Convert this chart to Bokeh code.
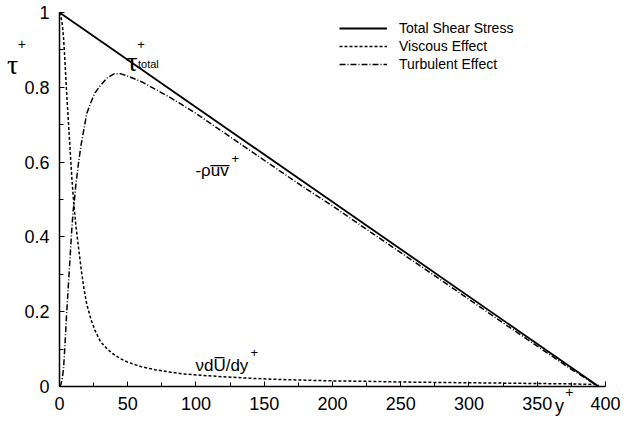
from bokeh.plotting import figure
from bokeh.models import Range1d, FixedTicker, CustomJSTickFormatter, Label, Legend, LegendItem
from bokeh.embed import file_html
from bokeh.resources import INLINE

# ---- data ----
y_plus = [0, 1, 2, 3, 4, 5, 6, 7, 8, 9, 10, 11, 12, 14, 16, 18, 20, 23, 26, 30, 35, 40, 45,
          50, 60, 70, 80, 90, 100, 120, 140, 160, 180, 200, 225, 250, 275, 300, 325, 350, 375, 395]
viscous = [1.0, 0.99, 0.97, 0.93, 0.87, 0.80, 0.74, 0.68, 0.62, 0.56, 0.51, 0.47, 0.43, 0.37,
           0.31, 0.26, 0.22, 0.18, 0.15, 0.12, 0.10, 0.085, 0.074, 0.065, 0.053, 0.045, 0.039,
           0.034, 0.031, 0.026, 0.022, 0.019, 0.017, 0.015, 0.014, 0.012, 0.011, 0.010, 0.009,
           0.008, 0.007, 0.005]
turbulent = [0.0, 0.005, 0.02, 0.05, 0.11, 0.18, 0.24, 0.30, 0.36, 0.42, 0.47, 0.50, 0.54, 0.60,
             0.65, 0.69, 0.73, 0.76, 0.785, 0.805, 0.825, 0.836, 0.836, 0.83, 0.815, 0.795,
             0.775, 0.753, 0.73, 0.68, 0.63, 0.58, 0.53, 0.483, 0.42, 0.358, 0.296, 0.233,
             0.17, 0.108, 0.046, 0.0]
total_y = [0, 395]
total_tau = [1.0, 0.0]

x_ticks = [0, 50, 100, 150, 200, 250, 300, 350, 400]
x_minor = [25, 75, 125, 175, 225, 275, 325, 375]
y_ticks = [0, 0.2, 0.4, 0.6, 0.8, 1]
y_minor = [0.1, 0.3, 0.5, 0.7, 0.9]

series_names = ["Total Shear Stress", "Viscous Effect", "Turbulent Effect"]

FONT = "Liberation Sans"
GREEK = "Liberation Serif"

# the frame fills the whole canvas; the axes are pinned at x=0 / y=0
p = figure(width=623, height=427, output_backend="svg", toolbar_location=None,
           x_range=Range1d(-43.22, 413.19), y_range=Range1d(-0.1096, 1.0321),
           min_border=0)
p.grid.visible = False
p.outline_line_color = None
p.background_fill_color = "white"
p.border_fill_color = "white"

p.xaxis[0].fixed_location = 0
p.yaxis[0].fixed_location = 0
p.xaxis[0].bounds = (0, 400)
p.yaxis[0].bounds = (0, 1)

for ax, ticks, minor in ((p.xaxis[0], x_ticks, x_minor), (p.yaxis[0], y_ticks, y_minor)):
    ax.ticker = FixedTicker(ticks=ticks, minor_ticks=minor)
    ax.axis_line_width = 1.5
    ax.axis_line_color = "black"
    ax.major_tick_in = 5
    ax.major_tick_out = 0
    ax.minor_tick_in = 4
    ax.minor_tick_out = 0
    ax.major_tick_line_color = "black"
    ax.minor_tick_line_color = "black"
    ax.major_label_text_font = FONT
    ax.major_label_text_font_size = "18px"
    ax.major_label_text_color = "black"
    ax.major_label_standoff = 10
p.yaxis[0].formatter = CustomJSTickFormatter(code="return String(tick);")

r_tot = p.line(total_y, total_tau, line_color="black", line_width=1.8)
r_vis = p.line(y_plus, viscous, line_color="black", line_width=1.5, line_dash="3 2")
r_tur = p.line(y_plus, turbulent, line_color="black", line_width=1.5, line_dash="6 2 1 2")

legend = Legend(items=[LegendItem(label=series_names[0], renderers=[r_tot]),
                       LegendItem(label=series_names[1], renderers=[r_vis]),
                       LegendItem(label=series_names[2], renderers=[r_tur])],
                location=(339, 354), border_line_color=None, background_fill_alpha=0,
                padding=0, margin=0, spacing=0, glyph_width=48, glyph_height=18,
                label_height=18, label_standoff=12, label_text_font=FONT,
                label_text_font_size="14px", label_text_color="black")
p.add_layout(legend)

def lab(x, y, text, size, baseline="alphabetic", font=FONT):
    p.add_layout(Label(x=x, y=y, text=text, text_font=font, text_font_size=size,
                       text_color="black", text_baseline=baseline, text_align="left"))

# axis titles
lab(-38.5, 0.862, "\u03c4", "28px", font=GREEK)
lab(-30.5, 0.915, "+", "14px", "middle")
lab(363, -0.053, "y", "18px")
lab(370.5, -0.016, "+", "14px", "middle")
# curve labels
lab(49, 0.868, "\u03c4", "28px", font=GREEK)
lab(57.5, 0.862, "total", "11px")
lab(57, 0.915, "+", "13px", "middle")
lab(99.6, 0.578, "-\u03c1u\u0305v\u0305", "17px")
lab(126, 0.61, "+", "13px", "middle")
lab(99.6, 0.056, "\u03bddU\u0305/dy", "17px")
lab(140, 0.091, "+", "13px", "middle")

open("out.html", "w").write(file_html(p, INLINE))
